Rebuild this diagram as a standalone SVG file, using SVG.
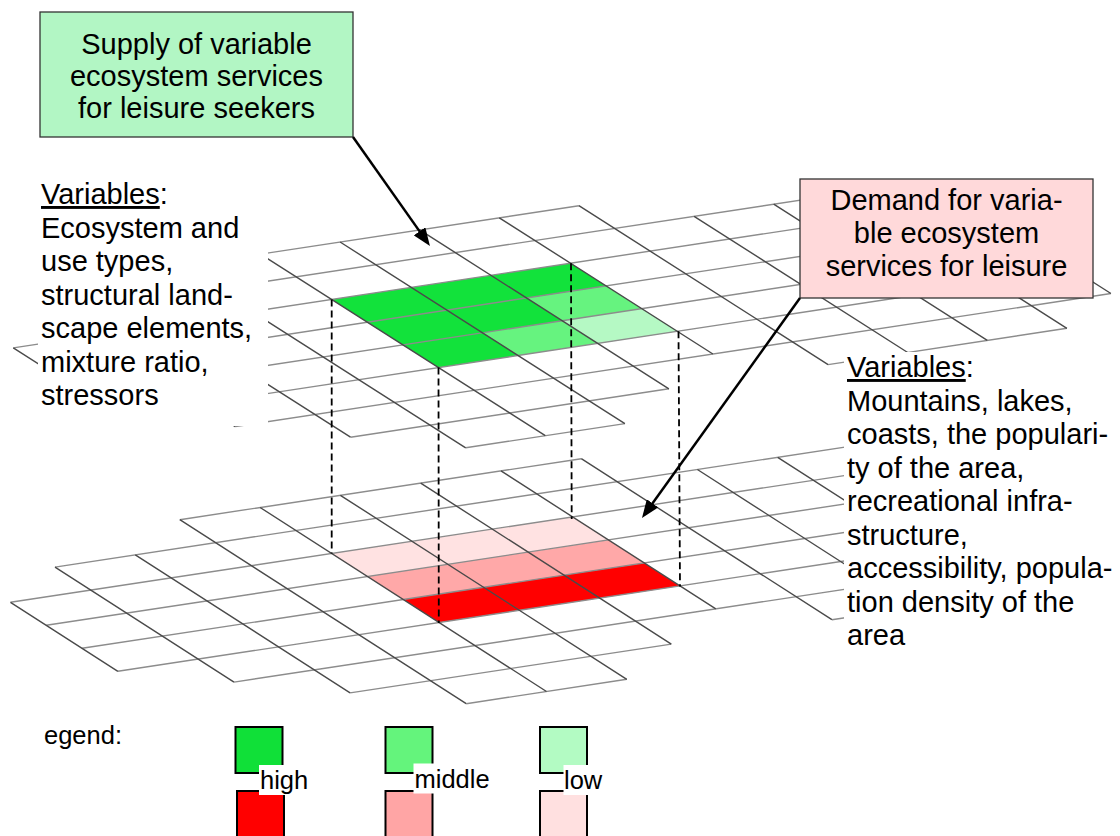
<svg xmlns="http://www.w3.org/2000/svg" width="1120" height="836" viewBox="0 0 1120 836">
<style>
.h{fill:none;stroke:#8c8c8c;stroke-width:1.4}
.d{fill:none;stroke:#4a4a4a;stroke-width:1.4}
.t{font-family:"Liberation Sans",Arial,sans-serif;font-size:29px;fill:#000}
.c{text-anchor:middle}
.lg{font-family:"Liberation Sans",Arial,sans-serif;font-size:25.5px;fill:#000}
.dash{stroke:#000;stroke-width:1.8;stroke-dasharray:7 4;fill:none}
.arr{stroke:#000;stroke-width:2.5;fill:none;marker-end:url(#ah)}
.box{stroke:#333;stroke-width:1.3}
.sq{stroke:#000;stroke-width:2}
</style>
<defs>
<marker id="ah" markerUnits="userSpaceOnUse" markerWidth="18" markerHeight="14" refX="12" refY="7" orient="auto"><path d="M0,0 L18,7 L0,14 z" fill="#000"/></marker>
</defs>
<rect width="1120" height="836" fill="#fff"/>

<g id="upper-grid">
<g transform="matrix(79.6 -12.1 35.6 22.7 331.7 299.5)">
<rect x="0" y="0" width="3" height="3" fill="#66f37f"/>
<polygon points="0,0 3,0 3,1 2,1 2,2 1,2 1,3 0,3" fill="#12e23b"/>
<rect x="2" y="2" width="1" height="1" fill="#b5f9c4"/>
<path class="h" vector-effect="non-scaling-stroke" d="M-1 -2H4M-3 -1H7M-4 0H8M-4 1H8M-4 2H8M-4 3H8M-3 4H8M-2 5H2M4 5H7M-1 6H1"/>
<path class="d" vector-effect="non-scaling-stroke" d="M-4 0V3M-3 -1V4M-2 -1V5M-1 -2V6M0 -2V6M1 -2V6M2 -2V5M3 -2V4M4 -2V5M5 -1V5M6 -1V5M7 -1V5M8 0V4"/>
</g>
</g>

<g id="lower-grid">
<g transform="matrix(80.3 -12.2 35.8 23 331.7 553.5)">
<rect x="0" y="0" width="3" height="1" fill="#ffe2e2"/>
<rect x="0" y="1" width="3" height="1" fill="#ffa8a8"/>
<rect x="0" y="2" width="3" height="1" fill="#ff0000"/>
<path class="h" vector-effect="non-scaling-stroke" d="M-1 -2H4M-3 -1H7M-4 0H8M-4 1H8M-4 2H8M-4 3H8M-3 4H8M-2 5H2M4 5H7M-1 6H1"/>
<path class="d" vector-effect="non-scaling-stroke" d="M-4 0V3M-3 -1V4M-2 -1V5M-1 -2V6M0 -2V6M1 -2V6M2 -2V5M3 -2V4M4 -2V5M5 -1V5M6 -1V5M7 -1V5M8 0V4"/>
</g>
</g>

<g id="supply-variables">
<rect x="38" y="172" width="230" height="254" fill="#fff"/>
<text class="t" x="41" y="204"><tspan style="text-decoration:underline">Variables</tspan>:</text>
<text class="t" x="41" y="237.5">Ecosystem and</text>
<text class="t" x="41" y="271">use types,</text>
<text class="t" x="41" y="304.5">structural land-</text>
<text class="t" x="41" y="338">scape elements,</text>
<text class="t" x="41" y="371.5">mixture ratio,</text>
<text class="t" x="41" y="405">stressors</text>
</g>

<g id="demand-variables">
<rect x="844" y="352" width="276" height="333" fill="#fff"/>
<text class="t" x="847" y="377"><tspan style="text-decoration:underline">Variables</tspan>:</text>
<text class="t" x="847" y="410.5">Mountains, lakes,</text>
<text class="t" x="847" y="444">coasts, the populari-</text>
<text class="t" x="847" y="477.5">ty of the area,</text>
<text class="t" x="847" y="511">recreational infra-</text>
<text class="t" x="847" y="544.5">structure,</text>
<text class="t" x="847" y="578">accessibility, popula-</text>
<text class="t" x="847" y="611.5">tion density of the</text>
<text class="t" x="847" y="645">area</text>
</g>

<g id="supply-box">
<rect class="box" x="40" y="12" width="313" height="125" fill="#b2f6c4"/>
<text class="t c" x="196.5" y="53.5">Supply of variable</text>
<text class="t c" x="196.5" y="85.5">ecosystem services</text>
<text class="t c" x="196.5" y="117.5">for leisure seekers</text>
</g>

<g id="demand-box">
<rect class="box" x="800" y="179" width="293" height="119" fill="#ffd9da"/>
<text class="t c" x="946.5" y="210">Demand for varia-</text>
<text class="t c" x="946.5" y="243">ble ecosystem</text>
<text class="t c" x="946.5" y="276">services for leisure</text>
</g>

<g id="connectors">
<line class="dash" x1="331.7" y1="299.5" x2="331.7" y2="553.5"/>
<line class="dash" x1="438.5" y1="367.6" x2="438.8" y2="623"/>
<line class="dash" x1="571" y1="263.3" x2="571.7" y2="519"/>
<line class="dash" x1="678.5" y1="331.3" x2="680" y2="586.5"/>
<line class="arr" x1="353" y1="137" x2="426.5" y2="241.1"/>
<line class="arr" x1="800" y1="298" x2="645.5" y2="513.1"/>
</g>

<g id="legend">
<text class="lg" x="44" y="744">egend:</text>
<rect class="sq" x="235.5" y="727" width="47" height="46" fill="#10e038"/>
<rect class="sq" x="385.5" y="727" width="47" height="46" fill="#64f47c"/>
<rect class="sq" x="540" y="727" width="47" height="46" fill="#b3fbc3"/>
<rect class="sq" x="237" y="791" width="47" height="50" fill="#ff0000"/>
<rect class="sq" x="385.5" y="791" width="47" height="50" fill="#ffa5a5"/>
<rect class="sq" x="540" y="791" width="47" height="50" fill="#ffe0e0"/>
<rect x="259" y="765" width="50" height="30" fill="#fff"/>
<rect x="413.5" y="763.5" width="79" height="30" fill="#fff"/>
<rect x="563.5" y="765" width="39.5" height="30" fill="#fff"/>
<text class="lg" x="260" y="789">high</text>
<text class="lg" x="414.5" y="788">middle</text>
<text class="lg" x="564" y="789">low</text>
</g>
</svg>
